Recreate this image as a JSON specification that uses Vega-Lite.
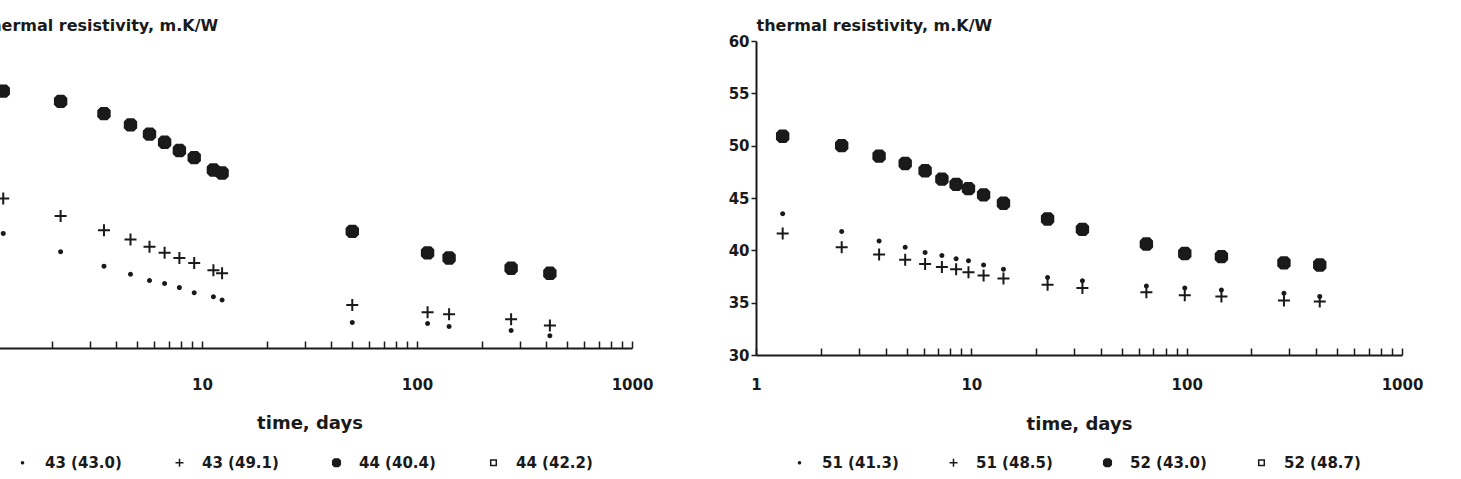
{
  "$schema": "https://vega.github.io/schema/vega-lite/v6.json",
  "padding": {"left": -19, "top": 17, "right": 0, "bottom": 0},
  "background": "white",
  "bounds": "flush",
  "spacing": 124,
  "config": {
    "view": {"stroke": null},
    "font": "DejaVu Sans",
    "axis": {
      "labelFont": "DejaVu Sans", "labelFontWeight": "bold", "labelFontSize": 15, "labelColor": "#1a1a1a",
      "titleFont": "DejaVu Sans", "titleColor": "#1a1a1a",
      "domainColor": "#1a1a1a", "tickColor": "#1a1a1a", "domainWidth": 2, "tickWidth": 1.5, "grid": false
    },
    "legend": {
      "labelFont": "DejaVu Sans", "labelFontWeight": "bold", "labelFontSize": 15, "labelColor": "#1a1a1a",
      "symbolSize": 64, "symbolStrokeWidth": 1.5, "padding": 0
    }
  },
  "datasets": {
    "left": [
      {"t": 1.19, "r": 41.2, "s": "43 (43.0)"}, {"t": 2.2, "r": 39.4, "s": "43 (43.0)"}, {"t": 3.5, "r": 38.0, "s": "43 (43.0)"},
      {"t": 4.65, "r": 37.2, "s": "43 (43.0)"}, {"t": 5.7, "r": 36.6, "s": "43 (43.0)"}, {"t": 6.7, "r": 36.3, "s": "43 (43.0)"},
      {"t": 7.85, "r": 35.9, "s": "43 (43.0)"}, {"t": 9.2, "r": 35.4, "s": "43 (43.0)"}, {"t": 11.3, "r": 35.0, "s": "43 (43.0)"},
      {"t": 12.4, "r": 34.7, "s": "43 (43.0)"}, {"t": 50, "r": 32.5, "s": "43 (43.0)"}, {"t": 112, "r": 32.4, "s": "43 (43.0)"},
      {"t": 141, "r": 32.1, "s": "43 (43.0)"}, {"t": 274, "r": 31.7, "s": "43 (43.0)"}, {"t": 415, "r": 31.2, "s": "43 (43.0)"},
      {"t": 1.19, "r": 44.6, "s": "43 (49.1)"}, {"t": 2.2, "r": 42.9, "s": "43 (49.1)"}, {"t": 3.5, "r": 41.5, "s": "43 (49.1)"},
      {"t": 4.65, "r": 40.6, "s": "43 (49.1)"}, {"t": 5.7, "r": 39.9, "s": "43 (49.1)"}, {"t": 6.7, "r": 39.3, "s": "43 (49.1)"},
      {"t": 7.85, "r": 38.8, "s": "43 (49.1)"}, {"t": 9.2, "r": 38.3, "s": "43 (49.1)"}, {"t": 11.3, "r": 37.6, "s": "43 (49.1)"},
      {"t": 12.4, "r": 37.3, "s": "43 (49.1)"}, {"t": 50, "r": 34.2, "s": "43 (49.1)"}, {"t": 112, "r": 33.5, "s": "43 (49.1)"},
      {"t": 141, "r": 33.3, "s": "43 (49.1)"}, {"t": 274, "r": 32.8, "s": "43 (49.1)"}, {"t": 415, "r": 32.2, "s": "43 (49.1)"},
      {"t": 1.19, "r": 55.1, "s": "44 (40.4)"}, {"t": 2.2, "r": 54.1, "s": "44 (40.4)"}, {"t": 3.5, "r": 52.9, "s": "44 (40.4)"},
      {"t": 4.65, "r": 51.8, "s": "44 (40.4)"}, {"t": 5.7, "r": 50.9, "s": "44 (40.4)"}, {"t": 6.7, "r": 50.1, "s": "44 (40.4)"},
      {"t": 7.85, "r": 49.3, "s": "44 (40.4)"}, {"t": 9.2, "r": 48.6, "s": "44 (40.4)"}, {"t": 11.3, "r": 47.4, "s": "44 (40.4)"},
      {"t": 12.4, "r": 47.1, "s": "44 (40.4)"}, {"t": 50, "r": 41.4, "s": "44 (40.4)"}, {"t": 112, "r": 39.3, "s": "44 (40.4)"},
      {"t": 141, "r": 38.8, "s": "44 (40.4)"}, {"t": 274, "r": 37.8, "s": "44 (40.4)"}, {"t": 415, "r": 37.3, "s": "44 (40.4)"}
    ],
    "right": [
      {"t": 1.33, "r": 43.5, "s": "51 (41.3)"}, {"t": 2.5, "r": 41.8, "s": "51 (41.3)"}, {"t": 3.73, "r": 40.9, "s": "51 (41.3)"},
      {"t": 4.93, "r": 40.3, "s": "51 (41.3)"}, {"t": 6.1, "r": 39.8, "s": "51 (41.3)"}, {"t": 7.3, "r": 39.5, "s": "51 (41.3)"},
      {"t": 8.5, "r": 39.2, "s": "51 (41.3)"}, {"t": 9.7, "r": 39.0, "s": "51 (41.3)"}, {"t": 11.4, "r": 38.6, "s": "51 (41.3)"},
      {"t": 14.1, "r": 38.2, "s": "51 (41.3)"}, {"t": 22.6, "r": 37.4, "s": "51 (41.3)"}, {"t": 32.8, "r": 37.1, "s": "51 (41.3)"},
      {"t": 65, "r": 36.6, "s": "51 (41.3)"}, {"t": 98, "r": 36.4, "s": "51 (41.3)"}, {"t": 145, "r": 36.2, "s": "51 (41.3)"},
      {"t": 283, "r": 35.9, "s": "51 (41.3)"}, {"t": 415, "r": 35.6, "s": "51 (41.3)"},
      {"t": 1.33, "r": 41.6, "s": "51 (48.5)"}, {"t": 2.5, "r": 40.3, "s": "51 (48.5)"}, {"t": 3.73, "r": 39.6, "s": "51 (48.5)"},
      {"t": 4.93, "r": 39.1, "s": "51 (48.5)"}, {"t": 6.1, "r": 38.7, "s": "51 (48.5)"}, {"t": 7.3, "r": 38.4, "s": "51 (48.5)"},
      {"t": 8.5, "r": 38.2, "s": "51 (48.5)"}, {"t": 9.7, "r": 37.9, "s": "51 (48.5)"}, {"t": 11.4, "r": 37.6, "s": "51 (48.5)"},
      {"t": 14.1, "r": 37.3, "s": "51 (48.5)"}, {"t": 22.6, "r": 36.7, "s": "51 (48.5)"}, {"t": 32.8, "r": 36.4, "s": "51 (48.5)"},
      {"t": 65, "r": 36.0, "s": "51 (48.5)"}, {"t": 98, "r": 35.7, "s": "51 (48.5)"}, {"t": 145, "r": 35.6, "s": "51 (48.5)"},
      {"t": 283, "r": 35.2, "s": "51 (48.5)"}, {"t": 415, "r": 35.1, "s": "51 (48.5)"},
      {"t": 1.33, "r": 50.9, "s": "52 (43.0)"}, {"t": 2.5, "r": 50.0, "s": "52 (43.0)"}, {"t": 3.73, "r": 49.0, "s": "52 (43.0)"},
      {"t": 4.93, "r": 48.3, "s": "52 (43.0)"}, {"t": 6.1, "r": 47.6, "s": "52 (43.0)"}, {"t": 7.3, "r": 46.8, "s": "52 (43.0)"},
      {"t": 8.5, "r": 46.3, "s": "52 (43.0)"}, {"t": 9.7, "r": 45.9, "s": "52 (43.0)"}, {"t": 11.4, "r": 45.3, "s": "52 (43.0)"},
      {"t": 14.1, "r": 44.5, "s": "52 (43.0)"}, {"t": 22.6, "r": 43.0, "s": "52 (43.0)"}, {"t": 32.8, "r": 42.0, "s": "52 (43.0)"},
      {"t": 65, "r": 40.6, "s": "52 (43.0)"}, {"t": 98, "r": 39.7, "s": "52 (43.0)"}, {"t": 145, "r": 39.4, "s": "52 (43.0)"},
      {"t": 283, "r": 38.8, "s": "52 (43.0)"}, {"t": 415, "r": 38.6, "s": "52 (43.0)"}
    ]
  },
  "hconcat": [
    {
      "width": 645, "height": 307,
      "data": {"name": "left"},
      "mark": {"type": "point", "filled": true, "strokeWidth": 2, "size": 144, "opacity": 1},
      "encoding": {
        "x": {
          "field": "t", "type": "quantitative",
          "scale": {"type": "log", "domain": [1, 1000]},
          "axis": {
            "title": "time, days", "titleFontSize": 18, "titleFontWeight": "bold", "titlePadding": 22,
            "values": [1,2,3,4,5,6,7,8,9,10,20,30,40,50,60,70,80,90,100,200,300,400,500,600,700,800,900,1000],
            "labelExpr": "indexof([1,10,100,1000], datum.value) >= 0 ? format(datum.value, 'd') : ''",
            "labelOverlap": false, "labelFlush": false, "tickSize": -7, "labelPadding": 36
          }
        },
        "y": {
          "field": "r", "type": "quantitative",
          "scale": {"domain": [30, 60]},
          "axis": {
            "title": "thermal resistivity, m.K/W", "titleAngle": 0, "titleAlign": "left", "titleBaseline": "alphabetic",
            "titleX": -5, "titleY": -11, "titleFontSize": 16, "titleFontWeight": "bold",
            "values": [30, 35, 40, 45, 50, 55, 60], "labels": false, "ticks": false
          }
        },
        "shape": {
          "field": "s", "type": "nominal",
          "scale": {
            "domain": ["43 (43.0)", "43 (49.1)", "44 (40.4)", "44 (42.2)"],
            "range": ["M0.25,0A0.25,0.25,0,1,1,-0.25,0A0.25,0.25,0,1,1,0.25,0Z", "M-1,0H1M0,-1V1", "M-0.5,-0.95H0.5L0.95,-0.5V0.5L0.5,0.95H-0.5L-0.95,0.5V-0.5Z", "M-0.7,-0.7H0.7V0.7H-0.7Z"]
          },
          "legend": {"title": null, "orient": "none", "legendX": 28, "legendY": 414, "direction": "horizontal", "columns": 4, "columnPadding": 50, "labelOffset": 15}
        },
        "fill": {
          "field": "s", "type": "nominal",
          "scale": {
            "domain": ["43 (43.0)", "43 (49.1)", "44 (40.4)", "44 (42.2)"],
            "range": ["#1a1a1a", "transparent", "#1a1a1a", "white"]
          },
          "legend": {"title": null, "orient": "none", "legendX": 28, "legendY": 414, "direction": "horizontal", "columns": 4, "columnPadding": 50, "labelOffset": 15}
        },
        "stroke": {
          "field": "s", "type": "nominal",
          "scale": {
            "domain": ["43 (43.0)", "43 (49.1)", "44 (40.4)", "44 (42.2)"],
            "range": ["#1a1a1a", "#1a1a1a", "#1a1a1a", "#1a1a1a"]
          },
          "legend": {"title": null, "orient": "none", "legendX": 28, "legendY": 414, "direction": "horizontal", "columns": 4, "columnPadding": 50, "labelOffset": 15}
        }
      }
    },
    {
      "width": 646, "height": 314,
      "data": {"name": "right"},
      "mark": {"type": "point", "filled": true, "strokeWidth": 2, "size": 144, "opacity": 1},
      "encoding": {
        "x": {
          "field": "t", "type": "quantitative",
          "scale": {"type": "log", "domain": [1, 1000]},
          "axis": {
            "title": "time, days", "titleFontSize": 18, "titleFontWeight": "bold", "titlePadding": 23,
            "values": [1,2,3,4,5,6,7,8,9,10,20,30,40,50,60,70,80,90,100,200,300,400,500,600,700,800,900,1000],
            "labelExpr": "indexof([1,10,100,1000], datum.value) >= 0 ? format(datum.value, 'd') : ''",
            "labelOverlap": false, "labelFlush": false, "tickSize": -7, "labelPadding": 29
          }
        },
        "y": {
          "field": "r", "type": "quantitative",
          "scale": {"domain": [30, 60]},
          "axis": {
            "title": "thermal resistivity, m.K/W", "titleAngle": 0, "titleAlign": "left", "titleBaseline": "alphabetic",
            "titleX": 0, "titleY": -11, "titleFontSize": 16, "titleFontWeight": "bold",
            "values": [30, 35, 40, 45, 50, 55, 60], "tickSize": 5, "labelPadding": 2
          }
        },
        "shape": {
          "field": "s", "type": "nominal",
          "scale": {
            "domain": ["51 (41.3)", "51 (48.5)", "52 (43.0)", "52 (48.7)"],
            "range": ["M0.25,0A0.25,0.25,0,1,1,-0.25,0A0.25,0.25,0,1,1,0.25,0Z", "M-1,0H1M0,-1V1", "M-0.5,-0.95H0.5L0.95,-0.5V0.5L0.5,0.95H-0.5L-0.95,0.5V-0.5Z", "M-0.7,-0.7H0.7V0.7H-0.7Z"]
          },
          "legend": {"title": null, "orient": "none", "legendX": 36, "legendY": 414, "direction": "horizontal", "columns": 4, "columnPadding": 47, "labelOffset": 15}
        },
        "fill": {
          "field": "s", "type": "nominal",
          "scale": {
            "domain": ["51 (41.3)", "51 (48.5)", "52 (43.0)", "52 (48.7)"],
            "range": ["#1a1a1a", "transparent", "#1a1a1a", "white"]
          },
          "legend": {"title": null, "orient": "none", "legendX": 36, "legendY": 414, "direction": "horizontal", "columns": 4, "columnPadding": 47, "labelOffset": 15}
        },
        "stroke": {
          "field": "s", "type": "nominal",
          "scale": {
            "domain": ["51 (41.3)", "51 (48.5)", "52 (43.0)", "52 (48.7)"],
            "range": ["#1a1a1a", "#1a1a1a", "#1a1a1a", "#1a1a1a"]
          },
          "legend": {"title": null, "orient": "none", "legendX": 36, "legendY": 414, "direction": "horizontal", "columns": 4, "columnPadding": 47, "labelOffset": 15}
        }
      }
    }
  ],
  "resolve": {"scale": {"shape": "independent", "fill": "independent", "stroke": "independent", "x": "independent", "y": "independent"}, "legend": {"shape": "independent", "fill": "independent", "stroke": "independent"}}
}
